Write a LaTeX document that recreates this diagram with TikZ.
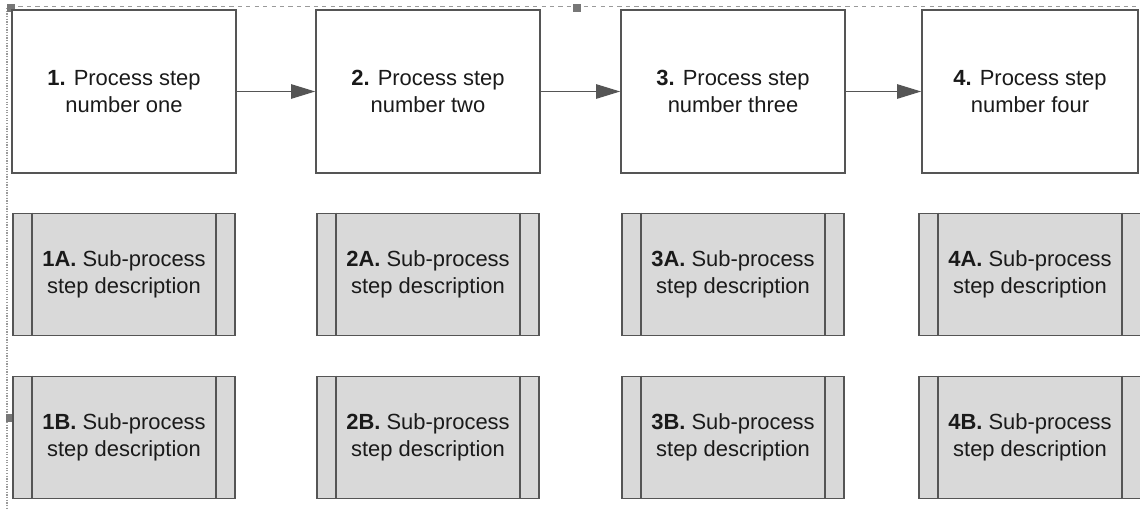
\documentclass[tikz,border=0pt]{standalone}
\usepackage{fontspec}
\setmainfont{Liberation Sans}
\usetikzlibrary{arrows.meta,positioning}
\definecolor{linegray}{HTML}{555555}
\definecolor{subfill}{HTML}{D9D9D9}
\definecolor{framegray}{HTML}{9A9A9A}
\definecolor{textgray}{HTML}{1A1A1A}

\begin{document}
\begin{tikzpicture}[x=0.025cm, y=-0.025cm,
    stepbox/.style={draw=linegray, line width=1.1pt, fill=white, text=textgray,
        align=center, inner sep=0pt, font=\fontsize{15.6}{18.8}\selectfont},
    subbox/.style={stepbox, fill=subfill, minimum width=5.55cm, minimum height=3.05cm},
    flow/.style={draw=linegray, line width=0.9pt, -{Triangle[length=0.6cm,width=0.36cm]}},
    handle/.style={fill=linegray!80, draw=none}]

    \useasboundingbox (0,0) rectangle (1140,509);

    % selection frame
    \draw [framegray, dashed, line width=0.6pt] (10,6) -- (1140,6);
    \draw [framegray, densely dotted, line width=0.9pt] (7,8) -- (7,509);
    \fill [handle] (7,4) rectangle (15,12);
    \fill [handle] (573,4) rectangle (581,12);
    \fill [handle] (6,414) rectangle (14,422);

    % process steps and sub-process steps
    \foreach \n/\x/\w/\word in {1/124/5.6/one, 2/428/5.6/two, 3/733/5.6/three, 4/1030/5.4/four}{
        \node [stepbox, minimum width=\w cm, minimum height=4.075cm] (step\n) at (\x,91.5)
            {\textbf{\n.} Process step\\number \word};
        \node [subbox] (sub\n a) at (\x,274.5) {\textbf{\n A.} Sub-process\\step description};
        \node [subbox] (sub\n b) at (\x,437.5) {\textbf{\n B.} Sub-process\\step description};
        \foreach \s in {a,b}{
            \draw [linegray, line width=1.1pt] ([xshift=0.5cm]sub\n\s.north west) -- ([xshift=0.5cm]sub\n\s.south west);
            \draw [linegray, line width=1.1pt] ([xshift=-0.5cm]sub\n\s.north east) -- ([xshift=-0.5cm]sub\n\s.south east);
        }
    }

    % connectors
    \foreach \a/\b in {1/2,2/3,3/4}
        \draw [flow] (step\a.east) -- (step\b.west);
\end{tikzpicture}
\end{document}
